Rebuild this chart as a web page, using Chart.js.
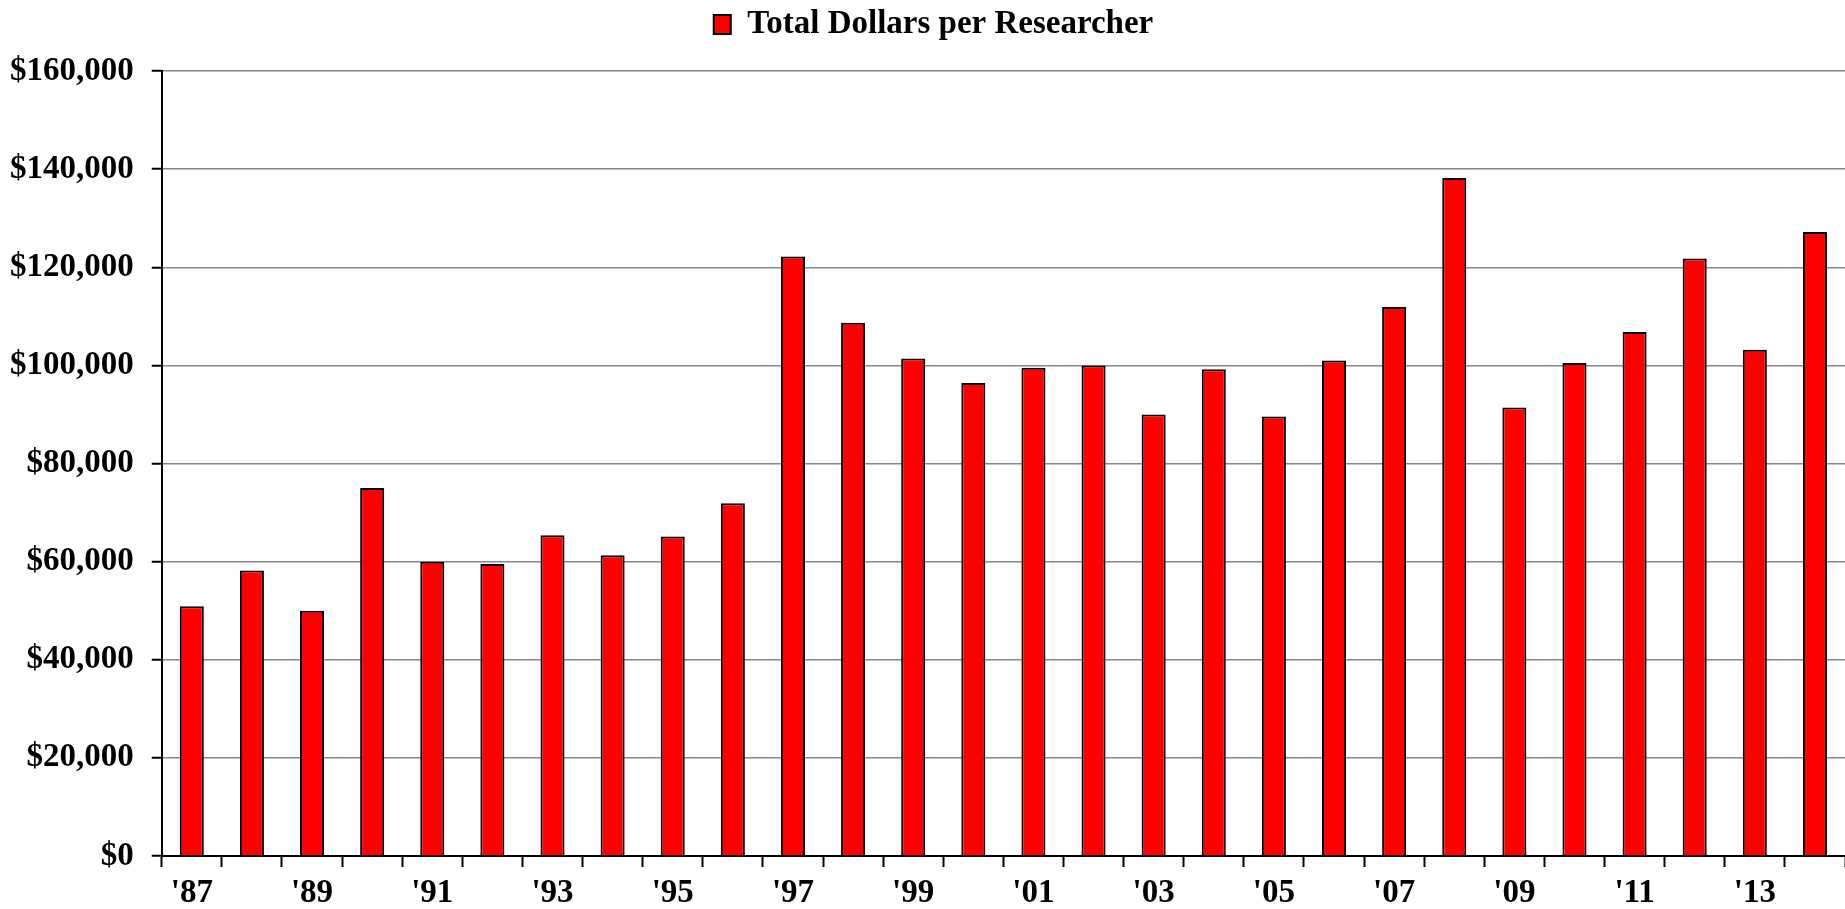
<!DOCTYPE html>
<html>
<head>
<meta charset="utf-8">
<script src="https://cdn.jsdelivr.net/npm/chart.js@4.4.1/dist/chart.umd.min.js"></script>
<style>
  html,body{margin:0;padding:0;background:#fff;}
  #wrap{width:1845px;height:909px;position:relative;}
</style>
</head>
<body>
<div id="wrap"><canvas id="barChart" width="1845" height="909"></canvas></div>
<script>
const years = ["'87","'88","'89","'90","'91","'92","'93","'94","'95","'96",
               "'97","'98","'99","'00","'01","'02","'03","'04","'05","'06",
               "'07","'08","'09","'10","'11","'12","'13","'14"];
const dollarsPerResearcher = [50900, 58200, 50000, 75000, 60000, 59500, 65400, 61300, 65100, 71900,
                              122200, 108700, 101400, 96400, 99500, 100000, 90000, 99200, 89600, 101000,
                              111900, 138200, 91400, 100500, 106800, 121800, 103200, 127200];
const seriesName = "Total Dollars per Researcher";
const yMax = 160000, yStep = 20000;

const serif = "'Liberation Serif', 'Times New Roman', serif";
Chart.defaults.font.family = serif;
Chart.defaults.color = "#000";

// extra space under the legend, and nudge it a little to the right
const legendGap = {
  id: "legendGap",
  beforeInit(chart){
    const fit = chart.legend.fit;
    chart.legend.fit = function(){
      fit.bind(chart.legend)();
      this.height += 20;
    };
  },
  afterUpdate(chart){
    const lg = chart.legend;
    lg.left += 15; lg.right += 15;
    lg.adjustHitBoxes();
  }
};

new Chart(document.getElementById("barChart"), {
  type: "bar",
  data: {
    labels: years,
    datasets: [{
      label: seriesName,
      data: dollarsPerResearcher,
      backgroundColor: "#ff0000",
      borderColor: "#000",
      borderWidth: 2,
      categoryPercentage: 0.8,
      barPercentage: 0.5
    }]
  },
  options: {
    responsive: false,
    animation: false,
    layout: { padding: { left: -8, right: 0, top: 2, bottom: 0 } },
    plugins: {
      tooltip: { enabled: false },
      legend: {
        position: "top",
        labels: {
          font: { size: 33, weight: "bold", family: serif },
          color: "#000",
          boxWidth: 17,
          boxHeight: 19,
          padding: 6
        }
      }
    },
    scales: {
      x: {
        afterFit: s => { s.height = 53; },
        border: { display: true, color: "#000", width: 2 },
        grid: { display: true, drawOnChartArea: false, drawTicks: true, tickLength: 11, tickColor: "#000", tickWidth: 2, offset: true },
        ticks: {
          autoSkip: false, maxRotation: 0, padding: 7,
          font: { size: 33, weight: "bold", family: serif },
          color: "#000",
          callback: (v, i) => i % 2 === 0 ? years[i] : ""
        }
      },
      y: {
        min: 0, max: yMax,
        border: { display: true, color: "#000", width: 2 },
        grid: { color: "#878787", lineWidth: 1.5, tickLength: 10, tickColor: "#000", tickWidth: 2 },
        ticks: {
          stepSize: yStep, padding: 18,
          font: { size: 33, weight: "bold", family: serif },
          color: "#000",
          callback: v => "$" + Number(v).toLocaleString("en-US")
        }
      }
    }
  },
  plugins: [legendGap]
});
</script>
</body>
</html>
